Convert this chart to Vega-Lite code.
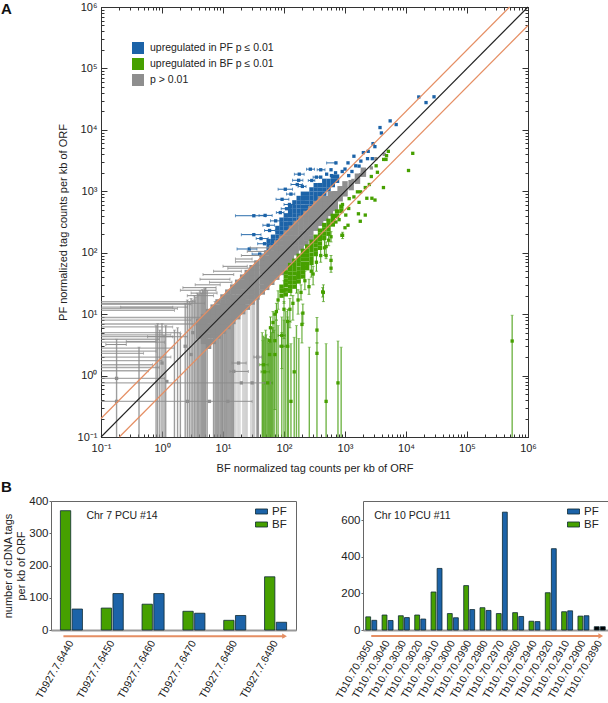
{"$schema":"https://vega.github.io/schema/vega-lite/v6.json","padding":{"top":1,"left":0,"right":0,"bottom":0},"background":"white","config":{"font":"Liberation Sans","view":{"stroke":null},"axis":{"labelColor":"#222","titleColor":"#222","labelFontSize":11,"titleFontSize":11,"titleFontWeight":"normal","grid":false,"domainColor":"#333","tickColor":"#333"},"legend":{"labelColor":"#222"}},
"datasets":{
"one":[{"x":1,"y":1}],
"bd":[{"x":56,"y":112},{"x":56,"y":131},{"x":56,"y":155},{"x":66,"y":132},{"x":66,"y":154},{"x":66,"y":182},{"x":78,"y":156},{"x":78,"y":183},{"x":78,"y":215},{"x":78,"y":253},{"x":91,"y":182},{"x":91,"y":213},{"x":91,"y":250},{"x":91,"y":295},{"x":91,"y":345},{"x":107,"y":214},{"x":107,"y":250},{"x":107,"y":294},{"x":107,"y":347},{"x":107,"y":406},{"x":126,"y":252},{"x":126,"y":295},{"x":126,"y":346},{"x":126,"y":408},{"x":126,"y":479},{"x":126,"y":563},{"x":148,"y":296},{"x":148,"y":346},{"x":148,"y":407},{"x":148,"y":480},{"x":148,"y":562},{"x":148,"y":660},{"x":174,"y":348},{"x":174,"y":407},{"x":174,"y":478},{"x":174,"y":564},{"x":174,"y":661},{"x":174,"y":778},{"x":204,"y":408},{"x":204,"y":477},{"x":204,"y":561},{"x":204,"y":661},{"x":204,"y":775},{"x":204,"y":912},{"x":240,"y":480},{"x":240,"y":562},{"x":240,"y":660},{"x":240,"y":778},{"x":240,"y":912},{"x":282,"y":564},{"x":282,"y":660},{"x":282,"y":775},{"x":282,"y":914},{"x":282,"y":1072},{"x":331,"y":662},{"x":331,"y":775},{"x":331,"y":910},{"x":331,"y":1072},{"x":331,"y":1258},{"x":389,"y":778},{"x":389,"y":910},{"x":389,"y":1070},{"x":389,"y":1260},{"x":457,"y":914},{"x":457,"y":1070},{"x":457,"y":1257},{"x":457,"y":1480},{"x":537,"y":1074},{"x":537,"y":1257},{"x":537,"y":1477},{"x":631,"y":1262},{"x":631,"y":1477},{"x":631,"y":1735},{"x":741,"y":1482},{"x":741,"y":1734}],
"bp":[{"x":32,"y":400},{"x":49,"y":405},{"x":32,"y":197},{"x":48,"y":140},{"x":27,"y":115},{"x":105,"y":1080},{"x":93,"y":740},{"x":123,"y":610},{"x":270,"y":2290},{"x":178,"y":1900},{"x":174,"y":1510},{"x":400,"y":2240},{"x":590,"y":2240},{"x":710,"y":2900},{"x":1120,"y":2900},{"x":165,"y":1290},{"x":55,"y":280},{"x":58,"y":230},{"x":73,"y":330},{"x":87,"y":450},{"x":110,"y":520},{"x":130,"y":900},{"x":200,"y":1200},{"x":285,"y":1500},{"x":340,"y":1700},{"x":42,"y":170},{"x":40,"y":95},{"x":400,"y":1700},{"x":500,"y":1900},{"x":600,"y":1800},{"x":700,"y":2000},{"x":900,"y":2100},{"x":1000,"y":2300},{"x":1500,"y":2600},{"x":1700,"y":2570},{"x":1400,"y":3720},{"x":2000,"y":4260},{"x":2400,"y":4470},{"x":1820,"y":3100},{"x":2340,"y":3400},{"x":2800,"y":3400},{"x":1300,"y":2100},{"x":1150,"y":1800},{"x":2880,"y":5970},{"x":3090,"y":5330},{"x":3750,"y":10900},{"x":3950,"y":8900},{"x":5500,"y":14000},{"x":6900,"y":12200},{"x":16200,"y":34300},{"x":28800,"y":34500},{"x":21300,"y":27800}],
"bh":[{"x":16,"b":50,"y":400},{"x":39,"b":64,"y":405},{"x":20,"b":42,"y":197},{"x":37,"b":62,"y":140},{"x":17,"b":36,"y":115},{"x":80,"b":138,"y":1080},{"x":74,"b":120,"y":740},{"x":100,"b":151,"y":610},{"x":234,"b":316,"y":2290},{"x":148,"b":214,"y":1900},{"x":138,"b":204,"y":1510},{"x":350,"b":470,"y":2240},{"x":500,"b":700,"y":2900},{"x":130,"b":200,"y":1290},{"x":45,"b":70,"y":280},{"x":48,"b":72,"y":230},{"x":60,"b":90,"y":330},{"x":75,"b":100,"y":450},{"x":90,"b":130,"y":520},{"x":110,"b":150,"y":900},{"x":170,"b":230,"y":1200},{"x":250,"b":320,"y":1500},{"x":300,"b":380,"y":1700},{"x":35,"b":55,"y":170},{"x":30,"b":50,"y":95}],
"gd":[{"x":4,"y":4.4},{"x":4,"y":5.3},{"x":4,"y":6.3},{"x":4,"y":7.6},{"x":4.8,"y":3.6},{"x":4.8,"y":4.4},{"x":4.8,"y":5.3},{"x":4.8,"y":6.4},{"x":4.8,"y":7.6},{"x":4.8,"y":9.1},{"x":5.8,"y":3},{"x":5.8,"y":3.6},{"x":5.8,"y":4.4},{"x":5.8,"y":5.3},{"x":5.8,"y":6.4},{"x":5.8,"y":7.7},{"x":5.8,"y":9.2},{"x":5.8,"y":11},{"x":6.9,"y":3.6},{"x":6.9,"y":4.4},{"x":6.9,"y":5.2},{"x":6.9,"y":6.3},{"x":6.9,"y":7.6},{"x":6.9,"y":9.1},{"x":6.9,"y":10.9},{"x":6.9,"y":13},{"x":8.3,"y":4.4},{"x":8.3,"y":5.2},{"x":8.3,"y":6.3},{"x":8.3,"y":7.6},{"x":8.3,"y":9.1},{"x":8.3,"y":11},{"x":8.3,"y":13},{"x":8.3,"y":15.8},{"x":10,"y":5.3},{"x":10,"y":6.3},{"x":10,"y":7.6},{"x":10,"y":9.1},{"x":10,"y":11},{"x":10,"y":13.2},{"x":10,"y":15.8},{"x":10,"y":19},{"x":12,"y":6.3},{"x":12,"y":7.6},{"x":12,"y":9.1},{"x":12,"y":10.9},{"x":12,"y":13.2},{"x":12,"y":15.8},{"x":12,"y":19},{"x":12,"y":22.8},{"x":14.5,"y":7.6},{"x":14.5,"y":9.1},{"x":14.5,"y":11},{"x":14.5,"y":13.2},{"x":14.5,"y":16},{"x":14.5,"y":19},{"x":14.5,"y":23},{"x":14.5,"y":27.5},{"x":17.4,"y":9.1},{"x":17.4,"y":11},{"x":17.4,"y":13.2},{"x":17.4,"y":15.8},{"x":17.4,"y":19},{"x":17.4,"y":23},{"x":17.4,"y":27.5},{"x":17.4,"y":33},{"x":21,"y":11},{"x":21,"y":13.2},{"x":21,"y":16},{"x":21,"y":19},{"x":21,"y":23},{"x":21,"y":27.7},{"x":21,"y":33},{"x":21,"y":40},{"x":25,"y":13},{"x":25,"y":15.8},{"x":25,"y":19},{"x":25,"y":22.8},{"x":25,"y":27.5},{"x":25,"y":33},{"x":25,"y":39.5},{"x":25,"y":47.5},{"x":30,"y":15.8},{"x":30,"y":19},{"x":30,"y":22.8},{"x":30,"y":27.3},{"x":30,"y":33},{"x":30,"y":39.6},{"x":30,"y":47.4},{"x":30,"y":57},{"x":36,"y":19},{"x":36,"y":22.7},{"x":36,"y":27.4},{"x":36,"y":32.8},{"x":36,"y":39.6},{"x":36,"y":47.5},{"x":36,"y":57},{"x":36,"y":68},{"x":44,"y":23},{"x":44,"y":27.7},{"x":44,"y":33.4},{"x":44,"y":40},{"x":44,"y":48.4},{"x":44,"y":58},{"x":44,"y":69.5},{"x":44,"y":83.6},{"x":52,"y":27.3},{"x":52,"y":32.8},{"x":52,"y":39.5},{"x":52,"y":47.3},{"x":52,"y":57},{"x":52,"y":68.6},{"x":52,"y":82},{"x":52,"y":99},{"x":63,"y":33},{"x":63,"y":39.7},{"x":63,"y":47.9},{"x":63,"y":57.3},{"x":63,"y":69.3},{"x":63,"y":83},{"x":63,"y":99.5},{"x":63,"y":120},{"x":76,"y":40},{"x":76,"y":47.9},{"x":76,"y":57.8},{"x":76,"y":69},{"x":76,"y":83.6},{"x":76,"y":100},{"x":76,"y":120},{"x":76,"y":144},{"x":91,"y":47.8},{"x":91,"y":57.3},{"x":91,"y":69},{"x":91,"y":82.8},{"x":91,"y":100},{"x":91,"y":120},{"x":91,"y":144},{"x":91,"y":173},{"x":110,"y":58},{"x":110,"y":69},{"x":110,"y":83.6},{"x":110,"y":100},{"x":110,"y":121},{"x":110,"y":145},{"x":110,"y":174},{"x":110,"y":209},{"x":132,"y":69},{"x":132,"y":83},{"x":132,"y":100},{"x":132,"y":120},{"x":132,"y":145},{"x":132,"y":174},{"x":132,"y":209},{"x":132,"y":251},{"x":158,"y":100},{"x":158,"y":120},{"x":158,"y":144},{"x":158,"y":174},{"x":158,"y":209},{"x":158,"y":250},{"x":158,"y":300},{"x":191,"y":120},{"x":191,"y":145},{"x":191,"y":174},{"x":191,"y":210},{"x":191,"y":252},{"x":191,"y":302},{"x":191,"y":363},{"x":229,"y":144},{"x":229,"y":174},{"x":229,"y":208},{"x":229,"y":252},{"x":229,"y":302},{"x":229,"y":362},{"x":229,"y":435},{"x":275,"y":173},{"x":275,"y":209},{"x":275,"y":250},{"x":275,"y":302},{"x":275,"y":363},{"x":275,"y":434},{"x":275,"y":522},{"x":331,"y":251},{"x":331,"y":301},{"x":331,"y":364},{"x":331,"y":437},{"x":331,"y":523},{"x":331,"y":629},{"x":398,"y":302},{"x":398,"y":362},{"x":398,"y":438},{"x":398,"y":525},{"x":398,"y":629},{"x":398,"y":756},{"x":479,"y":364},{"x":479,"y":436},{"x":479,"y":527},{"x":479,"y":632},{"x":479,"y":757},{"x":575,"y":437},{"x":575,"y":523},{"x":575,"y":632},{"x":575,"y":759},{"x":575,"y":908},{"x":692,"y":526},{"x":692,"y":630},{"x":692,"y":761},{"x":692,"y":913},{"x":832,"y":757},{"x":832,"y":915},{"x":832,"y":1098},{"x":1000,"y":910},{"x":1000,"y":1100},{"x":1000,"y":1320},{"x":1260,"y":1150},{"x":1260,"y":1380},{"x":1600,"y":1460},{"x":1600,"y":1760},{"x":2000,"y":1900},{"x":2000,"y":2200}],
"gp":[{"x":0.18,"y":0.9},{"x":0.18,"y":0.38},{"x":4400,"y":4000},{"x":3200,"y":3400},{"x":2700,"y":2400},{"x":1800,"y":1860},{"x":1350,"y":1500},{"x":1,"y":1.6},{"x":1.2,"y":0.8},{"x":2.4,"y":3},{"x":3,"y":2.2},{"x":3.2,"y":5},{"x":2.6,"y":0.38},{"x":6,"y":0.38},{"x":12,"y":0.38},{"x":20,"y":0.76},{"x":30,"y":0.76},{"x":15,"y":1.17},{"x":18,"y":1.6},{"x":37,"y":2}],
"gv":[{"x":0.18,"y":3.9},{"x":0.42,"y":2.9},{"x":0.8,"y":6.5},{"x":0.85,"y":7},{"x":0.92,"y":5.5},{"x":1,"y":7},{"x":1.08,"y":4.5},{"x":1.15,"y":6.5},{"x":1.6,"y":5.5},{"x":1.8,"y":6},{"x":2,"y":4.8},{"x":2.4,"y":15},{"x":2.6,"y":17},{"x":2.8,"y":16},{"x":3,"y":18},{"x":3.2,"y":17},{"x":3.4,"y":20},{"x":3.6,"y":19},{"x":3.8,"y":22},{"x":4,"y":21},{"x":4.2,"y":24},{"x":4.4,"y":22},{"x":4.6,"y":25},{"x":4.8,"y":24},{"x":5,"y":26},{"x":5.2,"y":27},{"x":5.5,"y":24},{"x":7,"y":11},{"x":7.4,"y":16},{"x":7.7,"y":13},{"x":8,"y":11},{"x":8.3,"y":14},{"x":8.6,"y":12},{"x":9,"y":15},{"x":9.4,"y":13},{"x":9.8,"y":16},{"x":10,"y":14},{"x":10.5,"y":17},{"x":11,"y":15},{"x":11.5,"y":19},{"x":12,"y":16},{"x":12.5,"y":19},{"x":13,"y":18},{"x":13.5,"y":21},{"x":14,"y":20},{"x":14.5,"y":18},{"x":15,"y":17},{"x":36,"y":28},{"x":37,"y":26},{"x":38,"y":30}],
"gl":[{"x":16,"y":24},{"x":17,"y":14},{"x":18,"y":22},{"x":19,"y":18},{"x":21,"y":16},{"x":22,"y":24},{"x":23,"y":20},{"x":24,"y":28},{"x":25,"y":20},{"x":28.5,"y":30},{"x":30,"y":25},{"x":31,"y":30},{"x":32,"y":28},{"x":33,"y":26}],
"gh":[{"x":3.5,"y":16},{"x":5,"y":15},{"x":3,"y":14.5},{"x":2.6,"y":13},{"x":1.8,"y":12.3},{"x":1.6,"y":11.5},{"x":6,"y":8.8},{"x":3,"y":8},{"x":3.5,"y":6.9},{"x":1.5,"y":6.2},{"x":2,"y":5},{"x":1.4,"y":4.6},{"x":2.6,"y":4.3},{"x":0.9,"y":3.9},{"x":1.1,"y":3.5},{"x":1.6,"y":2.8},{"x":0.8,"y":2.5},{"x":0.5,"y":2.3},{"x":1.4,"y":2},{"x":1,"y":1.75},{"x":0.7,"y":1.5},{"x":0.9,"y":1.35},{"x":0.6,"y":1.2},{"x":1.1,"y":0.9},{"x":60,"y":0.76},{"x":30,"y":0.38}],
"gH":[{"x":4.7,"b":15,"y":44},{"x":4.2,"b":13,"y":37},{"x":2.2,"b":7.7,"y":27},{"x":2,"b":7.7,"y":24.5},{"x":16,"b":37,"y":71},{"x":16,"b":30,"y":79},{"x":7,"b":20,"y":50},{"x":0.21,"b":1.5,"y":13},{"x":6,"b":14,"y":33},{"x":3,"b":8,"y":22},{"x":2.6,"b":7,"y":20},{"x":10,"b":25,"y":60},{"x":12,"b":28,"y":56},{"x":20,"b":40,"y":90},{"x":25,"b":50,"y":105},{"x":28,"b":55,"y":120},{"x":3.5,"b":9,"y":30},{"x":0.12,"b":0.26,"y":3.2},{"x":0.26,"b":0.8,"y":3.6},{"x":0.58,"b":1.5,"y":4.3},{"x":14,"b":24,"y":1.6},{"x":13,"b":26,"y":1.17},{"x":32,"b":43,"y":2}],
"ed":[{"x":91,"y":28},{"x":91,"y":24},{"x":91,"y":20},{"x":107,"y":48},{"x":107,"y":41},{"x":107,"y":35},{"x":107,"y":30},{"x":107,"y":25},{"x":107,"y":21},{"x":126,"y":63},{"x":126,"y":54},{"x":126,"y":46},{"x":126,"y":39},{"x":126,"y":33},{"x":126,"y":28},{"x":126,"y":24},{"x":148,"y":74},{"x":148,"y":63},{"x":148,"y":54},{"x":148,"y":46},{"x":148,"y":39},{"x":148,"y":33},{"x":148,"y":28},{"x":174,"y":89},{"x":174,"y":76},{"x":174,"y":65},{"x":174,"y":55},{"x":174,"y":47},{"x":174,"y":40},{"x":174,"y":34},{"x":204,"y":107},{"x":204,"y":91},{"x":204,"y":78},{"x":204,"y":66},{"x":204,"y":56},{"x":204,"y":48},{"x":204,"y":41},{"x":240,"y":126},{"x":240,"y":107},{"x":240,"y":91},{"x":240,"y":78},{"x":240,"y":66},{"x":240,"y":56},{"x":282,"y":151},{"x":282,"y":129},{"x":282,"y":110},{"x":282,"y":93},{"x":282,"y":79},{"x":282,"y":68},{"x":331,"y":182},{"x":331,"y":155},{"x":331,"y":132},{"x":331,"y":112},{"x":331,"y":95},{"x":389,"y":229},{"x":389,"y":195},{"x":389,"y":166},{"x":389,"y":141},{"x":389,"y":120},{"x":457,"y":282},{"x":457,"y":240},{"x":457,"y":204},{"x":457,"y":174},{"x":537,"y":331},{"x":537,"y":282},{"x":537,"y":240},{"x":537,"y":204},{"x":631,"y":398},{"x":631,"y":339},{"x":631,"y":288},{"x":741,"y":468},{"x":741,"y":398},{"x":871,"y":562},{"x":871,"y":478}],
"ep":[{"x":12900,"y":4150},{"x":11000,"y":2180},{"x":5130,"y":4470},{"x":4800,"y":3800},{"x":4300,"y":3300},{"x":4700,"y":3300},{"x":3240,"y":2600},{"x":3400,"y":2040},{"x":2700,"y":1740},{"x":4270,"y":1150},{"x":2500,"y":1290},{"x":2150,"y":1150},{"x":1600,"y":980},{"x":1800,"y":980},{"x":1400,"y":810},{"x":2280,"y":770},{"x":2760,"y":770},{"x":3100,"y":720},{"x":1700,"y":660},{"x":1170,"y":760},{"x":910,"y":610},{"x":1150,"y":525},{"x":1660,"y":430},{"x":2150,"y":410},{"x":1780,"y":325},{"x":1120,"y":280},{"x":1000,"y":255},{"x":890,"y":192},{"x":1030,"y":410},{"x":800,"y":345},{"x":710,"y":316},{"x":204,"y":10.4},{"x":197,"y":6.8},{"x":347,"y":5.5},{"x":347,"y":2.3},{"x":490,"y":0.38},{"x":767,"y":0.76},{"x":147,"y":1.15},{"x":130,"y":0.38},{"x":115,"y":3},{"x":92,"y":3},{"x":92,"y":4.5},{"x":71,"y":2.2},{"x":71,"y":3.7},{"x":58,"y":2.2},{"x":58,"y":3.7},{"x":46,"y":1.5},{"x":48,"y":1.15},{"x":54,"y":0.76},{"x":71,"y":10},{"x":66,"y":7.3},{"x":115,"y":7.6},{"x":100,"y":12},{"x":125,"y":12},{"x":442,"y":22.6},{"x":430,"y":23},{"x":257,"y":28},{"x":190,"y":22.6},{"x":590,"y":75},{"x":590,"y":56},{"x":490,"y":126},{"x":490,"y":90},{"x":590,"y":182},{"x":912,"y":192},{"x":550000,"y":3.65},{"x":140,"y":15},{"x":170,"y":17},{"x":220,"y":35},{"x":280,"y":50},{"x":300,"y":45},{"x":340,"y":70},{"x":400,"y":90},{"x":460,"y":120},{"x":540,"y":160},{"x":60,"y":6},{"x":75,"y":11},{"x":80,"y":17},{"x":100,"y":24}],
"ev":[{"x":44,"y":5},{"x":45,"y":3.7},{"x":46,"y":4.4},{"x":48,"y":4.2},{"x":50,"y":5.5},{"x":51,"y":4.6},{"x":54,"y":4},{"x":56,"y":3.4},{"x":58,"y":3.7},{"x":60,"y":4.3},{"x":62,"y":5},{"x":64,"y":6},{"x":66,"y":6},{"x":69,"y":5.5},{"x":75,"y":8},{"x":80,"y":6.5},{"x":92,"y":9},{"x":100,"y":8},{"x":107,"y":11},{"x":115,"y":9},{"x":118,"y":7.6},{"x":130,"y":3.3},{"x":147,"y":4.2},{"x":160,"y":6.5},{"x":175,"y":4},{"x":260,"y":2.9},{"x":347,"y":3.4},{"x":490,"y":3.3},{"x":767,"y":3.65},{"x":865,"y":2.9},{"x":550000,"y":9.6}],
"eV":[{"x":204,"y":7.1,"b":14.6},{"x":197,"y":3.4,"b":10.4},{"x":347,"y":3.4,"b":8.8},{"x":92,"y":1.3,"b":5},{"x":71,"y":0.28,"b":10},{"x":115,"y":3,"b":12},{"x":100,"y":4,"b":16},{"x":125,"y":6,"b":18},{"x":442,"y":16,"b":30},{"x":430,"y":19,"b":27},{"x":257,"y":21,"b":37},{"x":190,"y":17,"b":30},{"x":590,"y":48,"b":90},{"x":490,"y":80,"b":150},{"x":590,"y":150,"b":220},{"x":912,"y":170,"b":215},{"x":140,"y":8,"b":20},{"x":170,"y":10,"b":25},{"x":66,"y":5,"b":11},{"x":60,"y":3.5,"b":9},{"x":75,"y":8,"b":15},{"x":80,"y":12,"b":24},{"x":100,"y":15,"b":35},{"x":130,"y":20,"b":42},{"x":160,"y":22,"b":48},{"x":220,"y":25,"b":50},{"x":280,"y":40,"b":70},{"x":300,"y":30,"b":60},{"x":340,"y":50,"b":100},{"x":400,"y":70,"b":120},{"x":460,"y":90,"b":160},{"x":540,"y":130,"b":190}],
"eH":[{"x":40,"b":55,"y":1.5},{"x":42,"b":58,"y":1.15},{"x":85,"b":105,"y":3},{"x":80,"b":105,"y":4.5},{"x":48,"b":65,"y":0.76},{"x":110,"b":130,"y":7.6}],
"lines":[{"x":0.1,"y":0.1,"k":"a"},{"x":1000000,"y":1000000,"k":"a"},{"x":0.1,"y":0.2,"k":"b"},{"x":500000,"y":1000000,"k":"b"},{"x":0.2,"y":0.1,"k":"c"},{"x":1000000,"y":500000,"k":"c"}]
},
"vconcat":[
{"hconcat":[
{"width":50,"height":430,"data":{"name":"one"},"mark":{"type":"point","opacity":0},"encoding":{}},
{"width":427,"height":430,
"title":{"text":"A","anchor":"start","frame":"group","dx":-100,"offset":-16,"fontSize":15,"fontWeight":"bold","color":"#111"},
"encoding":{"x":{"field":"x","type":"quantitative","title":null,"axis":null,"scale":{"type":"log","domain":[0.1,1000000]}},"y":{"field":"y","type":"quantitative","title":null,"axis":null,"scale":{"type":"log","domain":[0.1,1000000]}}},
"resolve":{"axis":{"x":"independent","y":"independent"}},
"layer":[
{"data":{"name":"one"},"mark":{"type":"point","opacity":0},"encoding":{"x":{"field":"x","type":"quantitative","title":"BF normalized tag counts per kb of ORF","axis":{"orient":"bottom","values":[0.1,1,10,100,1000,10000,100000,1000000],"labelExpr":"'10'+['⁻¹','⁰','¹','²','³','⁴','⁵','⁶'][round(log(datum.value)/LN10)+1]","tickSize":-6,"labelPadding":11,"titlePadding":9,"labelFlush":false,"labelOverlap":false},"scale":{"type":"log","domain":[0.1,1000000]}},"y":{"field":"y","type":"quantitative","title":"PF normalized tag counts per kb of ORF","axis":{"orient":"left","values":[0.1,1,10,100,1000,10000,100000,1000000],"labelExpr":"'10'+['⁻¹','⁰','¹','²','³','⁴','⁵','⁶'][round(log(datum.value)/LN10)+1]","tickSize":-6,"labelPadding":10,"titlePadding":9,"labelFlush":false,"labelOverlap":false},"scale":{"type":"log","domain":[0.1,1000000]}}}},
{"data":{"name":"one"},"mark":{"type":"point","opacity":0},"encoding":{"x":{"field":"x","type":"quantitative","title":null,"axis":{"orient":"bottom","tickCount":60,"labels":false,"tickSize":-3,"domain":false,"title":null},"scale":{"type":"log","domain":[0.1,1000000]}},"y":{"field":"y","type":"quantitative","title":null,"axis":{"orient":"left","tickCount":60,"labels":false,"tickSize":-3,"domain":false,"title":null},"scale":{"type":"log","domain":[0.1,1000000]}}}},
{"data":{"name":"one"},"mark":{"type":"point","opacity":0},"encoding":{"x":{"field":"x","type":"quantitative","title":null,"axis":{"orient":"top","values":[0.1,1,10,100,1000,10000,100000,1000000],"labels":false,"tickSize":-6,"title":null},"scale":{"type":"log","domain":[0.1,1000000]}},"y":{"field":"y","type":"quantitative","title":null,"axis":{"orient":"right","values":[0.1,1,10,100,1000,10000,100000,1000000],"labels":false,"tickSize":-6,"title":null},"scale":{"type":"log","domain":[0.1,1000000]}}}},
{"data":{"name":"one"},"mark":{"type":"point","opacity":0},"encoding":{"x":{"field":"x","type":"quantitative","title":null,"axis":{"orient":"top","tickCount":60,"labels":false,"tickSize":-3,"domain":false,"title":null},"scale":{"type":"log","domain":[0.1,1000000]}},"y":{"field":"y","type":"quantitative","title":null,"axis":{"orient":"right","tickCount":60,"labels":false,"tickSize":-3,"domain":false,"title":null},"scale":{"type":"log","domain":[0.1,1000000]}}}},
{"data":{"name":"ev"},"mark":{"type":"rule","color":"#5aa82a","opacity":0.85,"strokeWidth":1.4},"encoding":{"y2":{"datum":0.1}}},
{"data":{"name":"ev"},"mark":{"type":"tick","orient":"horizontal","color":"#5aa82a","size":3,"thickness":0.8}},
{"data":{"name":"eV"},"mark":{"type":"errorbar","color":"#4da01a","ticks":{"size":3,"color":"#4da01a"},"rule":{"color":"#4da01a"}},"encoding":{"y2":{"field":"b"}}},
{"data":{"name":"eH"},"mark":{"type":"errorbar","color":"#4da01a","ticks":{"size":3,"color":"#4da01a"},"rule":{"color":"#4da01a"}},"encoding":{"x2":{"field":"b"}}},
{"data":{"name":"bh"},"mark":{"type":"errorbar","color":"#2a6cab","ticks":{"size":3,"color":"#2a6cab"},"rule":{"color":"#2a6cab"}},"encoding":{"x2":{"field":"b"}}},
{"data":{"name":"bd"},"mark":{"type":"point","shape":"square","filled":true,"opacity":1,"size":19},"encoding":{"color":{"datum":"upregulated in PF p ≤ 0.01","legend":{"orient":"none","legendX":81,"legendY":35,"title":null,"symbolType":"square","symbolSize":144,"labelFontSize":10.5,"labelOffset":6,"rowPadding":4,"symbolOpacity":1,"symbolStrokeWidth":0},"scale":{"domain":["upregulated in PF p ≤ 0.01","upregulated in BF p ≤ 0.01","p > 0.01"],"range":["#1c63a8","#46a000","#8e8e8e"]}}}},
{"data":{"name":"bp"},"mark":{"type":"point","shape":"square","filled":true,"opacity":1,"size":11},"encoding":{"color":{"datum":"upregulated in PF p ≤ 0.01"}}},
{"data":{"name":"gl"},"mark":{"type":"rule","color":"#8c8c8c","opacity":0.35,"strokeWidth":1.4},"encoding":{"y2":{"datum":0.1}}},
{"data":{"name":"gv"},"mark":{"type":"rule","color":"#8c8c8c","opacity":0.85,"strokeWidth":1.4},"encoding":{"y2":{"datum":0.1}}},
{"data":{"name":"gv"},"mark":{"type":"tick","orient":"horizontal","color":"#8c8c8c","size":3,"thickness":0.8}},
{"data":{"name":"gh"},"mark":{"type":"rule","color":"#8c8c8c","opacity":0.75,"strokeWidth":1.4},"encoding":{"x2":{"datum":0.1}}},
{"data":{"name":"gh"},"mark":{"type":"tick","orient":"vertical","color":"#8c8c8c","size":3,"thickness":0.8}},
{"data":{"name":"gH"},"mark":{"type":"errorbar","color":"#8c8c8c","ticks":{"size":3,"color":"#8c8c8c"},"rule":{"color":"#8c8c8c"}},"encoding":{"x2":{"field":"b"}}},
{"data":{"name":"gd"},"mark":{"type":"point","shape":"square","filled":true,"opacity":1,"size":30},"encoding":{"color":{"datum":"p > 0.01"}}},
{"data":{"name":"gp"},"mark":{"type":"point","shape":"square","filled":true,"opacity":1,"size":11},"encoding":{"color":{"datum":"p > 0.01"}}},
{"data":{"name":"ed"},"mark":{"type":"point","shape":"square","filled":true,"opacity":1,"size":19},"encoding":{"color":{"datum":"upregulated in BF p ≤ 0.01"}}},
{"data":{"name":"ep"},"mark":{"type":"point","shape":"square","filled":true,"opacity":1,"size":11},"encoding":{"color":{"datum":"upregulated in BF p ≤ 0.01"}}},
{"data":{"name":"lines"},"transform":[{"filter":"datum.k!='a'"}],"mark":{"type":"line","color":"#e58e63","strokeWidth":1.2},"encoding":{"detail":{"field":"k"}}},
{"data":{"name":"lines"},"transform":[{"filter":"datum.k=='a'"}],"mark":{"type":"line","color":"#222","strokeWidth":1.1},"encoding":{"detail":{"field":"k"}}}
]}
],"spacing":0,"bounds":"flush"},
{"hconcat":[
{"width":245,"height":129,"view":{"stroke":"#666"},
"title":{"text":"B","anchor":"start","frame":"group","dx":-50,"offset":0,"fontSize":15,"fontWeight":"bold","color":"#111"},
"resolve":{"axis":{"x":"independent","y":"independent"}},
"layer":[
{"data":{"values":[{"g":"Tb927.7.6440","s":"BF","c":"BF","v":370},{"g":"Tb927.7.6440","s":"PF","c":"PF","v":65},{"g":"Tb927.7.6450","s":"BF","c":"BF","v":68},{"g":"Tb927.7.6450","s":"PF","c":"PF","v":113},{"g":"Tb927.7.6460","s":"BF","c":"BF","v":80},{"g":"Tb927.7.6460","s":"PF","c":"PF","v":113},{"g":"Tb927.7.6470","s":"BF","c":"BF","v":58},{"g":"Tb927.7.6470","s":"PF","c":"PF","v":52},{"g":"Tb927.7.6480","s":"BF","c":"BF","v":30},{"g":"Tb927.7.6480","s":"PF","c":"PF","v":45},{"g":"Tb927.7.6490","s":"BF","c":"BF","v":165},{"g":"Tb927.7.6490","s":"PF","c":"PF","v":24}]},
"mark":{"type":"bar","stroke":"#0e2a33","strokeWidth":0.8},
"encoding":{"x":{"field":"g","type":"nominal","sort":null,"title":null,"scale":{"paddingInner":0.46,"paddingOuter":0.23},"axis":{"labelAngle":-60,"labelFontSize":10.5,"ticks":false,"labelPadding":11,"domainColor":"#999","domainWidth":2,"labelOverlap":false}},"xOffset":{"field":"s","type":"nominal","scale":{"domain":["BF","PF"],"paddingInner":0.12}},"y":{"field":"v","type":"quantitative","title":["number of cDNA tags","per kb of ORF"],"scale":{"domain":[0,400],"nice":false},"axis":{"values":[0,100,200,300,400],"domain":false,"tickSize":2,"tickColor":"#666","labelPadding":1,"titlePadding":2,"labelFontSize":11.5,"labelFlush":false,"labelOverlap":false}},"fill":{"field":"c","type":"nominal","scale":{"domain":["BF","PF"],"range":["#46a000","#1c63a8"]},"legend":{"orient":"none","legendX":204,"legendY":4,"title":null,"values":["PF","BF"],"symbolType":"M-1,-0.42H1V0.42H-1Z","symbolSize":144,"symbolStrokeWidth":0.8,"labelFontSize":11.5,"rowPadding":1,"labelOffset":4}}}},
{"data":{"values":[{"g":"Tb927.7.6440","v":353,"t":"Chr 7 PCU #14"}]},"mark":{"type":"text","align":"left","dx":15,"fontSize":10.5,"color":"#222"},"encoding":{"x":{"field":"g","type":"nominal","sort":null,"axis":null},"y":{"field":"v","type":"quantitative","axis":null},"text":{"field":"t"}}},
{"data":{"values":[{"g":"Tb927.7.6440","g2":"Tb927.7.6490","v":-19}]},"mark":{"type":"rule","color":"#e58e63","strokeWidth":2,"xOffset":-8,"x2Offset":9},"encoding":{"x":{"field":"g","type":"nominal","sort":null,"axis":null},"x2":{"field":"g2"},"y":{"field":"v","type":"quantitative","axis":null}}},
{"data":{"values":[{"g":"Tb927.7.6490","v":-19}]},"mark":{"type":"point","shape":"triangle-right","filled":true,"opacity":1,"color":"#e58e63","size":30,"xOffset":9},"encoding":{"x":{"field":"g","type":"nominal","sort":null,"axis":null},"y":{"field":"v","type":"quantitative","axis":null}}}
]},
{"width":245,"height":129,"view":{"stroke":"#666"},
"resolve":{"axis":{"x":"independent","y":"independent"}},
"layer":[
{"data":{"values":[{"g":"Tb10.70.3050","s":"BF","c":"BF","v":72},{"g":"Tb10.70.3050","s":"PF","c":"PF","v":53},{"g":"Tb10.70.3040","s":"BF","c":"BF","v":82},{"g":"Tb10.70.3040","s":"PF","c":"PF","v":52},{"g":"Tb10.70.3030","s":"BF","c":"BF","v":78},{"g":"Tb10.70.3030","s":"PF","c":"PF","v":68},{"g":"Tb10.70.3020","s":"BF","c":"BF","v":82},{"g":"Tb10.70.3020","s":"PF","c":"PF","v":60},{"g":"Tb10.70.3010","s":"BF","c":"BF","v":208},{"g":"Tb10.70.3010","s":"PF","c":"PF","v":337},{"g":"Tb10.70.3000","s":"BF","c":"BF","v":90},{"g":"Tb10.70.3000","s":"PF","c":"PF","v":67},{"g":"Tb10.70.2990","s":"BF","c":"BF","v":243},{"g":"Tb10.70.2990","s":"PF","c":"PF","v":112},{"g":"Tb10.70.2980","s":"BF","c":"BF","v":122},{"g":"Tb10.70.2980","s":"PF","c":"PF","v":107},{"g":"Tb10.70.2970","s":"BF","c":"BF","v":90},{"g":"Tb10.70.2970","s":"PF","c":"PF","v":645},{"g":"Tb10.70.2950","s":"BF","c":"BF","v":95},{"g":"Tb10.70.2950","s":"PF","c":"PF","v":74},{"g":"Tb10.70.2940","s":"BF","c":"BF","v":48},{"g":"Tb10.70.2940","s":"PF","c":"PF","v":46},{"g":"Tb10.70.2920","s":"BF","c":"BF","v":204},{"g":"Tb10.70.2920","s":"PF","c":"PF","v":445},{"g":"Tb10.70.2910","s":"BF","c":"BF","v":100},{"g":"Tb10.70.2910","s":"PF","c":"PF","v":105},{"g":"Tb10.70.2900","s":"BF","c":"BF","v":76},{"g":"Tb10.70.2900","s":"PF","c":"PF","v":78},{"g":"Tb10.70.2890","s":"BF","c":"none","v":18},{"g":"Tb10.70.2890","s":"PF","c":"none","v":18}]},
"mark":{"type":"bar","stroke":"#0e2a33","strokeWidth":0.8},
"encoding":{"x":{"field":"g","type":"nominal","sort":null,"title":null,"scale":{"paddingInner":0.33,"paddingOuter":0.17},"axis":{"labelAngle":-60,"labelFontSize":10.5,"ticks":false,"labelPadding":11,"domainColor":"#999","domainWidth":2,"labelOverlap":false}},"xOffset":{"field":"s","type":"nominal","scale":{"domain":["BF","PF"],"paddingInner":0.2}},"y":{"field":"v","type":"quantitative","title":null,"scale":{"domain":[0,706],"nice":false},"axis":{"values":[0,200,400,600],"domain":false,"tickSize":2,"tickColor":"#666","labelPadding":1,"labelFontSize":11.5,"labelFlush":false,"labelOverlap":false}},"fill":{"field":"c","type":"nominal","scale":{"domain":["BF","PF","none"],"range":["#46a000","#1c63a8","#000000"]},"legend":{"orient":"none","legendX":204,"legendY":4,"title":null,"values":["PF","BF"],"symbolType":"M-1,-0.42H1V0.42H-1Z","symbolSize":144,"symbolStrokeWidth":0.8,"labelFontSize":11.5,"rowPadding":1,"labelOffset":4}}}},
{"data":{"values":[{"g":"Tb10.70.3050","v":622,"t":"Chr 10 PCU #11"}]},"mark":{"type":"text","align":"left","dx":3,"fontSize":10.5,"color":"#222"},"encoding":{"x":{"field":"g","type":"nominal","sort":null,"axis":null},"y":{"field":"v","type":"quantitative","axis":null},"text":{"field":"t"}}},
{"data":{"values":[{"g":"Tb10.70.3050","g2":"Tb10.70.2890","v":-33}]},"mark":{"type":"rule","color":"#e58e63","strokeWidth":2,"xOffset":0,"x2Offset":1},"encoding":{"x":{"field":"g","type":"nominal","sort":null,"axis":null},"x2":{"field":"g2"},"y":{"field":"v","type":"quantitative","axis":null}}},
{"data":{"values":[{"g":"Tb10.70.2890","v":-33}]},"mark":{"type":"point","shape":"triangle-right","filled":true,"opacity":1,"color":"#e58e63","size":30,"xOffset":1},"encoding":{"x":{"field":"g","type":"nominal","sort":null,"axis":null},"y":{"field":"v","type":"quantitative","axis":null}}}
]}
],"spacing":67,"bounds":"flush","resolve":{"scale":{"fill":"independent","xOffset":"independent"}}}
],"spacing":6,"resolve":{"scale":{"xOffset":"independent"}}}
